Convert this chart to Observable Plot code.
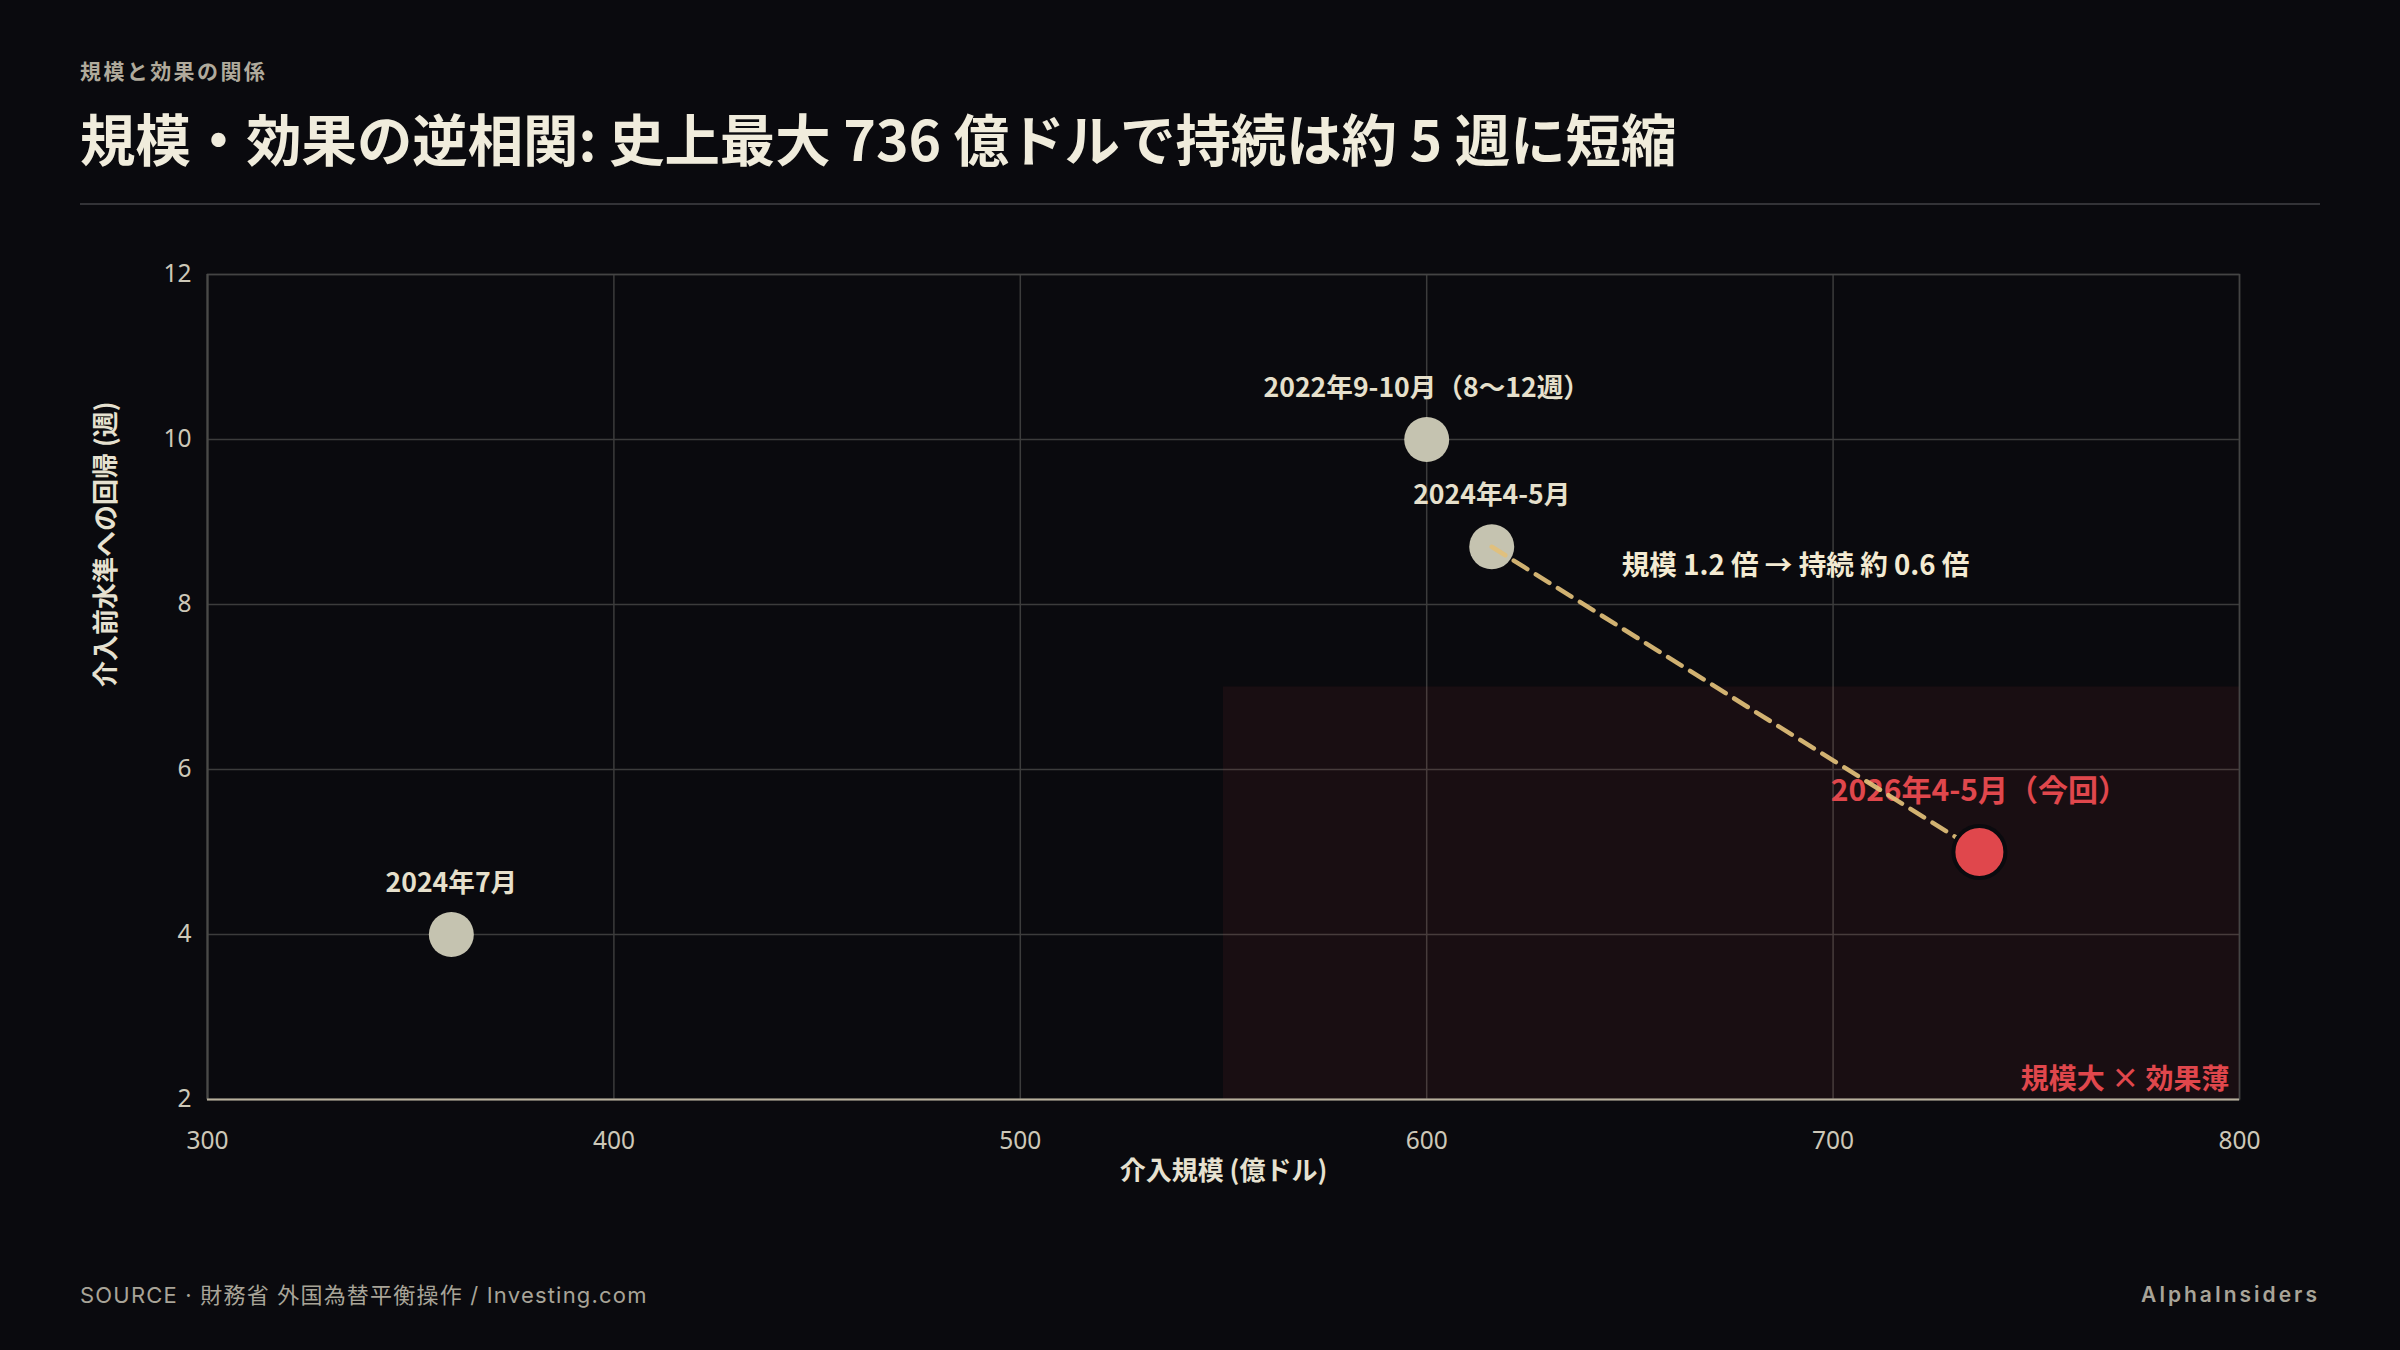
<!DOCTYPE html>
<html lang="ja">
<head>
<meta charset="utf-8">
<script src="https://cdn.jsdelivr.net/npm/d3@7"></script>
<script src="https://cdn.jsdelivr.net/npm/@observablehq/plot@0.6"></script>
<style>
  html, body { margin: 0; padding: 0; background: #0a0a0e; }
  #page { position: relative; width: 2400px; height: 1350px; overflow: hidden; background: #0a0a0e; font-family: "Noto Sans CJK JP", "Noto Sans", sans-serif; }
  #kicker { position: absolute; left: 80px; top: 60px; font-size: 21px; line-height: 1; font-weight: 700; color: #b0aa9c; letter-spacing: 2.4px; }
  #title { position: absolute; left: 80px; top: 110px; font-size: 55.4px; line-height: 1; font-weight: 700; color: #f0ecdc; white-space: nowrap; }
  #rule { position: absolute; left: 80px; top: 203px; width: 2240px; height: 2px; background: #333337; }
  #chart { position: absolute; left: 0; top: 200px; }
  #source { position: absolute; left: 80px; top: 1284px; font-family: "Inter", "Noto Sans CJK JP", sans-serif; font-size: 22px; line-height: 1; color: #a8a498; letter-spacing: 1.2px; white-space: nowrap; }
  #brand { position: absolute; right: 80px; top: 1284px; font-family: "Inter", sans-serif; font-size: 21px; line-height: 1; font-weight: 600; color: #a8a498; letter-spacing: 3px; }
</style>
</head>
<body>
<div id="page">
  <div id="kicker">規模と効果の関係</div>
  <div id="title">規模・効果の逆相関: 史上最大 736 億ドルで持続は約 5 週に短縮</div>
  <div id="rule"></div>
  <div id="chart"></div>
  <div id="source">SOURCE · 財務省 外国為替平衡操作 / Investing.com</div>
  <div id="brand">AlphaInsiders</div>
</div>
<script>
// ---- data ----
const episodes = ["2024年7月", "2022年9-10月（8〜12週）", "2024年4-5月", "2026年4-5月（今回）"];
const sizes = [360, 600, 616, 736];          // 介入規模 (億ドル)
const weeksBack = [4, 10, 8.7, 5];           // 介入前水準への回帰 (週)
const isCurrent = [false, false, false, true];
const trendIdx = [2, 3];                     // 2024年4-5月 → 2026年4-5月
const zoneX = [550, 800];
const zoneY = [2, 7];
const zoneLabel = "規模大 × 効果薄";
const trendNote = "規模 1.2 倍 → 持続 約 0.6 倍";
const notePos = {x: 648, y: 8.47};
const xTicks = [300, 400, 500, 600, 700, 800];
const yTicks = [2, 4, 6, 8, 10, 12];
const xLabel = "介入規模 (億ドル)";
const yLabel = "介入前水準への回帰 (週)";

const pts = episodes.map((name, i) => ({name, x: sizes[i], y: weeksBack[i], cur: isCurrent[i]}));
const past = pts.filter(d => !d.cur);
const current = pts.filter(d => d.cur);
const trend = trendIdx.map(i => pts[i]);
const zone = [{x1: zoneX[0], x2: zoneX[1], y1: zoneY[0], y2: zoneY[1]}];

const CJK = "Noto Sans CJK JP";
const plot = Plot.plot({
  width: 2400,
  height: 1000,
  marginLeft: 207,
  marginRight: 161,
  marginTop: 74,
  marginBottom: 101,
  style: {background: "transparent", color: "#cdc8b8", fontFamily: CJK, fontSize: "24px"},
  x: {domain: [300, 800]},
  y: {domain: [2, 12]},
  marks: [
    Plot.gridX(xTicks, {stroke: "#3c3c3c", strokeOpacity: 1, strokeWidth: 1.5}),
    Plot.gridY(yTicks, {stroke: "#3c3c3c", strokeOpacity: 1, strokeWidth: 1.5}),
    Plot.rect(zone, {x1: "x1", x2: "x2", y1: "y1", y2: "y2", fill: "#e0474c", fillOpacity: 0.07}),
    Plot.frame({stroke: "#444444", strokeWidth: 1.5}),
    Plot.ruleX([300], {stroke: "#4a4a48", strokeWidth: 2}),
    Plot.ruleY([2], {stroke: "#b8b09c", strokeWidth: 2}),
    Plot.axisX({ticks: xTicks, tickSize: 0, tickPadding: 32, label: null, fontFamily: "Noto Sans", fontSize: 24.5, color: "#cdc8b8"}),
    Plot.axisY({ticks: yTicks, tickSize: 0, tickPadding: 16, label: null, fontFamily: "Noto Sans", fontSize: 24.5, color: "#cdc8b8"}),
    Plot.dot(past, {x: "x", y: "y", r: 22.5, fill: "#c5c3b0", stroke: "none"}),
    Plot.text(past, {x: "x", y: "y", text: "name", dy: -51, fontSize: 26.6, fontWeight: 700, fill: "#e6e0cc", fontFamily: CJK}),
    Plot.text(current, {x: "x", y: "y", text: "name", dy: -61, fontSize: 30, fontWeight: 700, fill: "#e0474c", fontFamily: CJK}),
    Plot.line(trend, {x: "x", y: "y", stroke: "#e2c07a", strokeOpacity: 0.92, strokeWidth: 4.5, strokeDasharray: "16,10"}),
    Plot.dot(current, {x: "x", y: "y", r: 26, fill: "#e0474c", stroke: "#0a0a0e", strokeWidth: 4}),
    Plot.text([notePos], {x: "x", y: "y", text: () => trendNote, textAnchor: "start", fontSize: 27.6, fontWeight: 700, fill: "#f3ead2", fontFamily: CJK}),
    Plot.text([zoneLabel], {frameAnchor: "bottom-right", text: d => d, dx: -10, dy: -11, textAnchor: "end", fontSize: 28, fontWeight: 700, fill: "#e0474c", fontFamily: CJK}),
    Plot.text([xLabel], {frameAnchor: "bottom", text: d => d, dy: 80, fontSize: 26, fontWeight: 700, fill: "#e6e1d0", fontFamily: CJK}),
    Plot.text([yLabel], {frameAnchor: "left", text: d => d, rotate: -90, textAnchor: "start", dx: -101, dy: 0, fontSize: 26, fontWeight: 700, fill: "#e6e1d0", fontFamily: CJK})
  ]
});
document.getElementById("chart").appendChild(plot);
</script>
</body>
</html>
